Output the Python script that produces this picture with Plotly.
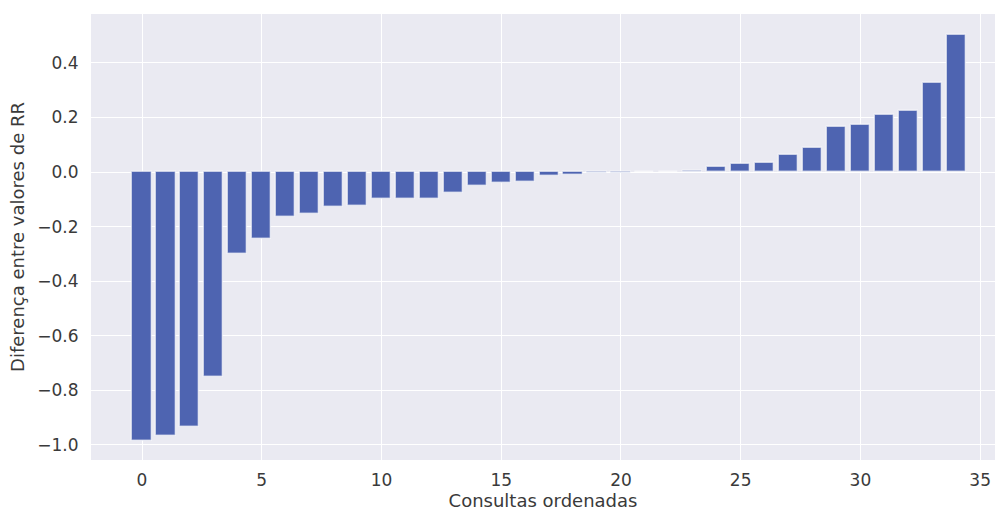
import plotly.graph_objects as go

consultas = list(range(35))
diferenca = [
    -0.985, -0.967, -0.933, -0.750, -0.300, -0.247, -0.164, -0.153, -0.128, -0.123,
    -0.099, -0.097, -0.097, -0.076, -0.050, -0.039, -0.035, -0.015, -0.011, -0.002,
    -0.002, -0.001, 0.0, 0.002, 0.019, 0.029, 0.033, 0.062, 0.088, 0.166,
    0.171, 0.209, 0.225, 0.326, 0.502,
]
x_ticks = [0, 5, 10, 15, 20, 25, 30, 35]
y_ticks = [-1.0, -0.8, -0.6, -0.4, -0.2, 0.0, 0.2, 0.4]

fig = go.Figure(
    go.Bar(
        x=consultas,
        y=diferenca,
        width=0.8,
        marker=dict(color="#4E64B1", line=dict(color="rgba(255,255,255,0.6)", width=1.4)),
    )
)

font_family = "DejaVu Sans"
fig.update_layout(
    width=995,
    height=511,
    margin=dict(l=91, r=0, t=14, b=51, autoexpand=False),
    paper_bgcolor="white",
    plot_bgcolor="#EAEAF2",
    font=dict(family=font_family, color="#262626", size=17),
    showlegend=False,
    bargap=0,
)
fig.update_xaxes(
    automargin=False,
    range=[-2.13, 35.62],
    tickmode="array",
    tickvals=x_ticks,
    ticktext=[str(v) for v in x_ticks],
    showgrid=True,
    gridcolor="white",
    gridwidth=1,
    zeroline=False,
    showline=False,
    ticks="outside",
    ticklen=5,
    tickcolor="rgba(0,0,0,0)",
    tickfont=dict(size=17, color="#3a3a3a"),
    title=dict(text="Consultas ordenadas", font=dict(size=18, color="#3a3a3a"), standoff=2),
)
fig.update_yaxes(
    automargin=False,
    range=[-1.055, 0.579],
    tickmode="array",
    tickvals=y_ticks,
    ticktext=[f"{v:.1f}".replace("-", "\u2212") for v in y_ticks],
    showgrid=True,
    gridcolor="white",
    gridwidth=1,
    zeroline=False,
    showline=False,
    ticks="outside",
    ticklen=8,
    tickcolor="rgba(0,0,0,0)",
    tickfont=dict(size=17, color="#3a3a3a"),
    title=dict(text="Diferença entre valores de RR", font=dict(size=18, color="#3a3a3a"), standoff=8),
)

fig.write_html(
    "out.html",
    config={"displayModeBar": False},
    post_script="document.body.style.margin='0';document.body.style.overflow='hidden';",
)
